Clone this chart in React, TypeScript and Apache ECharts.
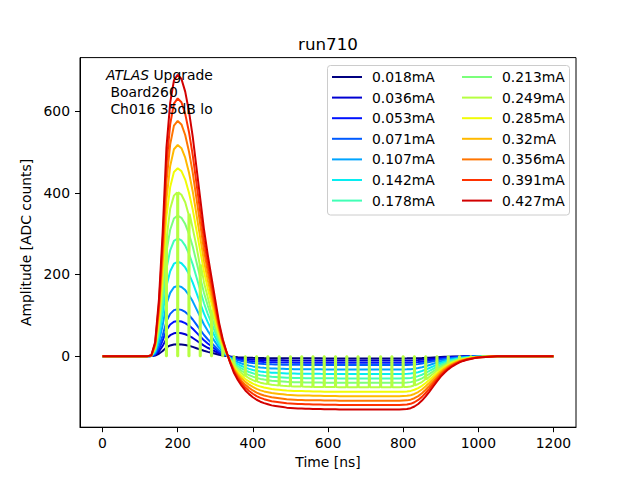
import * as echarts from "echarts";
import { useEffect, useRef } from "react";

const FONT = "DejaVu Sans";

const labels = [
  "0.018mA", "0.036mA", "0.053mA", "0.071mA", "0.107mA", "0.142mA", "0.178mA",
  "0.213mA", "0.249mA", "0.285mA", "0.32mA", "0.356mA", "0.391mA", "0.427mA",
];

// jet colormap colours, one per current
const colors = [
  "#000080", "#0000d2", "#0012ff", "#005bff", "#00a4ff", "#06edf1", "#41ffb6",
  "#7bff7b", "#b6ff41", "#f1fc06", "#ffb900", "#ff7500", "#ff3200", "#d20000",
];

// peak amplitude of each pulse [ADC counts]
const peaks = [29, 57, 86, 115, 172, 231, 288, 344, 401, 460, 517, 576, 631, 689];

// sample times [ns]
const times = [
  0, 50, 100, 110, 120, 130, 140, 150, 160, 170, 180, 190, 200, 210, 220, 230,
  240, 250, 260, 270, 280, 290, 300, 310, 320, 330, 340, 350, 360, 370, 380,
  390, 400, 410, 420, 430, 440, 450, 460, 470, 480, 490, 500, 510, 520, 530,
  540, 550, 560, 570, 580, 590, 600, 610, 620, 630, 640, 650, 660, 670, 680,
  690, 700, 710, 720, 730, 740, 750, 760, 770, 780, 790, 800, 810, 820, 830,
  840, 850, 860, 870, 880, 890, 900, 910, 920, 930, 940, 950, 960, 970, 980,
  990, 1000, 1010, 1020, 1030, 1040, 1050, 1060, 1080, 1100, 1150, 1200,
];

// normalised pulse shape (peak = 1), read at the sample times
const shape = [
  0, 0, 0, 0, 0, 0.003, 0.05, 0.2, 0.44, 0.74, 0.9, 0.98, 1.0, 0.985, 0.94, 0.87,
  0.78, 0.67, 0.56, 0.45, 0.36, 0.28, 0.2, 0.12, 0.06, 0.015, -0.025, -0.06, -0.085, -0.105, -0.122,
  -0.135, -0.146, -0.155, -0.162, -0.167, -0.171, -0.175, -0.177, -0.179, -0.181, -0.183, -0.184, -0.185, -0.186, -0.186,
  -0.187, -0.187, -0.188, -0.188, -0.188, -0.189, -0.189, -0.189, -0.189, -0.19, -0.19, -0.19, -0.19, -0.19, -0.19,
  -0.19, -0.19, -0.19, -0.19, -0.19, -0.19, -0.19, -0.19, -0.19, -0.19, -0.19, -0.189, -0.188, -0.185, -0.179,
  -0.17, -0.158, -0.143, -0.126, -0.108, -0.09, -0.073, -0.059, -0.047, -0.037, -0.029, -0.022, -0.017, -0.013, -0.01,
  -0.007, -0.005, -0.004, -0.003, -0.002, -0.001, 0, 0, 0, 0, 0, 0,
];

// the 0.249mA run drops to zero at these samples
const dropoutSeries = 8;
const dropoutTimes = [
  170, 200, 230, 260, 290, 320, 350, 380, 410, 440, 470, 500, 530, 560, 590, 620,
  650, 680, 710, 740, 770, 800, 830, 860, 890, 920, 950, 980, 1010, 1040, 1070,
];

const xTicks = [0, 200, 400, 600, 800, 1000, 1200];
const yTicks = [0, 200, 400, 600];

const App = () => {
  const chartRef = useRef(null);

  useEffect(() => {
    const myChart = echarts.init(chartRef.current, null, { renderer: "svg" });

    const series = labels.map((name, i) => {
      const data: number[][] = [];
      times.forEach((t, j) => {
        const v = peaks[i] * shape[j];
        if (i === dropoutSeries && dropoutTimes.includes(t)) {
          data.push([t - 1.5, v], [t - 1.5, 0], [t + 1.5, 0], [t + 1.5, v]);
        } else {
          data.push([t, v]);
        }
      });
      return {
        name,
        type: "line" as const,
        data,
        showSymbol: false,
        color: colors[i],
        lineStyle: { width: 2, color: colors[i] },
      };
    });

    const legendText = {
      fontFamily: FONT,
      fontSize: 13.9,
      color: "#000",
      lineHeight: 14,
      padding: [0, 0, 0, 5],
    };
    const legendBase = {
      orient: "vertical" as const,
      top: 70,
      itemWidth: 30,
      itemHeight: 2,
      itemGap: 6.6,
      icon: "rect",
      padding: 0,
      selectedMode: false,
      textStyle: legendText,
    };

    const axisText = { fontFamily: FONT, fontSize: 13.9, color: "#000" };
    const plain = (v: number) => String(v);

    myChart.setOption({
      animation: false,
      grid: {
        left: 80,
        right: 64,
        top: 57.6,
        bottom: 52.8,
        show: true,
        borderColor: "#000",
        borderWidth: 1,
        backgroundColor: "transparent",
      },
      xAxis: {
        type: "value",
        min: -60,
        max: 1260,
        name: "Time [ns]",
        nameLocation: "middle",
        nameGap: 28,
        nameTextStyle: axisText,
        axisLine: { show: true, onZero: false, lineStyle: { color: "#000", width: 1 } },
        axisTick: { show: true, length: 5, lineStyle: { color: "#000" }, customValues: xTicks },
        axisLabel: { ...axisText, margin: 9, customValues: xTicks, formatter: plain },
        splitLine: { show: false },
      },
      yAxis: {
        type: "value",
        min: -174,
        max: 731,
        name: "Amplitude [ADC counts]",
        nameLocation: "middle",
        nameGap: 42,
        nameRotate: 90,
        nameTextStyle: axisText,
        axisLine: { show: true, onZero: false, lineStyle: { color: "#000", width: 1 } },
        axisTick: { show: true, length: 5, lineStyle: { color: "#000" }, customValues: yTicks },
        axisLabel: { ...axisText, margin: 10, customValues: yTicks, formatter: plain },
        splitLine: { show: false },
      },
      legend: [
        { ...legendBase, left: 332, data: labels.slice(0, 7) },
        { ...legendBase, left: 462, data: labels.slice(7) },
      ],
      graphic: [
        {
          type: "rect",
          z: 3,
          shape: { x: 327.5, y: 65.5, width: 242, height: 149.5, r: 3 },
          style: { fill: "rgba(255,255,255,0.8)", stroke: "#cccccc", lineWidth: 1 },
        },
        {
          type: "text",
          z: 5,
          x: 328,
          y: 44,
          style: {
            text: "run710",
            fontFamily: FONT,
            fontSize: 16.7,
            fill: "#000",
            align: "center",
            verticalAlign: "middle",
          },
        },
        {
          type: "text",
          z: 5,
          x: 106,
          y: 66,
          style: {
            text: "{i|ATLAS} Upgrade\n Board260\n Ch016 35dB lo",
            fontFamily: FONT,
            fontSize: 13.9,
            lineHeight: 17,
            fill: "#000",
            verticalAlign: "top",
            rich: {
              i: { fontFamily: FONT, fontSize: 13.9, lineHeight: 17, fontStyle: "italic", fill: "#000" },
            },
          },
        },
      ],
      series,
    });

    return () => {
      myChart.dispose();
    };
  }, []);

  return (
    <div
      ref={chartRef}
      style={{ position: "absolute", left: 0, top: 0, width: "640px", height: "480px" }}
    />
  );
};

export default App;
